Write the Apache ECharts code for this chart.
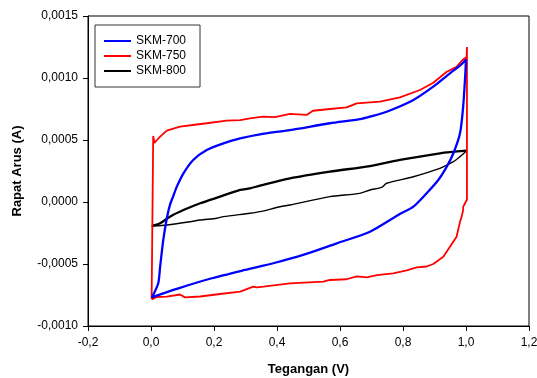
<!DOCTYPE html>
<html>
<head>
<meta charset="utf-8">
<script src="https://cdn.jsdelivr.net/npm/echarts@6/dist/echarts.min.js"></script>
<style>
  html, body { margin: 0; padding: 0; background: #fff; }
  #chart { width: 537px; height: 378px; }
</style>
</head>
<body>
<div id="chart"></div>
<script>
// Cyclic voltammograms: potential (V) vs current (A)
const seriesNames = ['SKM-700', 'SKM-750', 'SKM-800'];
const seriesColors = ['#0000ff', '#ff0000', '#000000'];

const xTickLabels = ['-0,2', '0,0', '0,2', '0,4', '0,6', '0,8', '1,0', '1,2'];
const yTickLabels = ['-0,0010', '-0,0005', '0,0000', '0,0005', '0,0010', '0,0015'];

// SKM-700
const skm700V = [0.002, 0.007, 0.023, 0.029, 0.039, 0.05, 0.06, 0.071, 0.082, 0.103, 0.134, 0.177, 0.23, 0.283, 0.346, 0.441, 0.568, 0.663, 0.695, 0.748, 0.833, 0.896, 0.949, 0.981, 1.0,
  0.998, 0.991, 0.981, 0.96, 0.939, 0.912, 0.875, 0.833, 0.79, 0.695, 0.59, 0.483, 0.394, 0.298, 0.193, 0.087, 0.002];
const skm700I = [-0.000769, -0.00075, -0.000656, -0.000522, -0.000306, -0.000135, -0.000025, 0.00005, 0.000124, 0.000231, 0.000339, 0.000419, 0.000473, 0.000513, 0.000546, 0.00058, 0.000635, 0.000668, 0.000688, 0.000728, 0.000823, 0.00093, 0.001038, 0.0011, 0.00115,
  0.00104, 0.000769, 0.000554, 0.000393, 0.000285, 0.000177, 0.00007, -0.000038, -0.000097, -0.00024, -0.000333, -0.000427, -0.00049, -0.000548, -0.000615, -0.000696, -0.000769];

// SKM-750
const skm750V = [0.002, 0.007, 0.007, 0.011, 0.019, 0.029, 0.05, 0.092, 0.133, 0.177, 0.24, 0.283, 0.314, 0.356, 0.394, 0.441, 0.494, 0.514, 0.568, 0.621, 0.653, 0.727, 0.79, 0.854, 0.896, 0.939, 0.97, 0.991, 1.002, 1.003,
  1.003, 0.997, 0.991, 0.991, 0.986, 0.981, 0.97, 0.949, 0.928, 0.896, 0.875, 0.843, 0.812, 0.769, 0.717, 0.685, 0.653, 0.621, 0.568, 0.547, 0.441, 0.357, 0.336, 0.325, 0.283, 0.219, 0.156, 0.108, 0.092, 0.05, 0.018, 0.002];
const skm750I = [-0.000785, -0.000774, 0.000532, 0.000476, 0.0005, 0.000527, 0.000575, 0.000607, 0.000621, 0.000635, 0.000656, 0.000661, 0.000675, 0.000688, 0.000685, 0.00071, 0.000702, 0.000736, 0.00075, 0.000763, 0.000796, 0.000809, 0.000844, 0.000903, 0.000962, 0.00105, 0.00109, 0.00115, 0.00117, 0.00125,
  0.00002, 0.000016, -0.00004, -0.000065, -0.00012, -0.00016, -0.00028, -0.00036, -0.000441, -0.0005, -0.00052, -0.000527, -0.000552, -0.000575, -0.000589, -0.000608, -0.0006, -0.000623, -0.000629, -0.000642, -0.000656, -0.000683, -0.000688, -0.000683, -0.000723, -0.000742, -0.000762, -0.000769, -0.000746, -0.000763, -0.000766, -0.000785];

// SKM-800 (anodic sweep first, then the return sweep)
const skm800V = [0.002, 0.029, 0.06, 0.103, 0.156, 0.219, 0.283, 0.314, 0.346, 0.441, 0.568, 0.695, 0.79, 0.917, 1.002,
  0.981, 0.96, 0.917, 0.833, 0.748, 0.732, 0.695, 0.663, 0.568, 0.441, 0.41, 0.346, 0.314, 0.23, 0.209, 0.156, 0.124, 0.05, 0.007];
const skm800I = [-0.000194, -0.000172, -0.000118, -0.000065, -0.00001, 0.000043, 0.000097, 0.00011, 0.000132, 0.000191, 0.000245, 0.00029, 0.000339, 0.000393, 0.000414,
  0.000366, 0.000325, 0.000271, 0.000204, 0.000151, 0.000118, 0.000097, 0.00007, 0.000043, -0.000024, -0.000038, -0.000078, -0.000091, -0.000118, -0.000131, -0.000145, -0.000159, -0.000185, -0.000194];
const skm800Turn = 14; // index of the switching potential

const toPairs = (v, i) => v.map((x, k) => [x, i[k]]);
const blue = toPairs(skm700V, skm700I);
const red = toPairs(skm750V, skm750I);
const black = toPairs(skm800V, skm800I);

const chart = echarts.init(document.getElementById('chart'), null, { renderer: 'canvas' });

const font = 'Liberation Sans, Arial, sans-serif';

const lineSeries = (name, data, color, width, smooth, z) => ({
  name, type: 'line', data, showSymbol: false, smooth, color,
  lineStyle: { color, width }, z
});

chart.setOption({
  animation: false,
  backgroundColor: '#fff',
  grid: {
    left: 88, top: 16, right: 8, bottom: 52,
    outerBoundsMode: 'none', containLabel: false,
    show: true, borderColor: '#000', borderWidth: 1, backgroundColor: 'transparent'
  },
  legend: {
    left: 95, top: 25,
    orient: 'vertical',
    itemWidth: 27, itemHeight: 2, itemGap: 1,
    padding: [9, 14, 9, 9],
    borderColor: '#333', borderWidth: 1,
    icon: 'rect',
    textStyle: { fontFamily: font, fontSize: 12, lineHeight: 14, color: '#000' },
    data: seriesNames
  },
  xAxis: {
    type: 'value', min: -0.2, max: 1.2, interval: 0.2,
    axisLine: { onZero: false, lineStyle: { color: '#000', width: 1 } },
    axisTick: { show: true, inside: false, length: 5, lineStyle: { color: '#000' } },
    splitLine: { show: false },
    axisLabel: {
      margin: 11, color: '#000', fontFamily: font, fontSize: 12,
      formatter: v => xTickLabels[Math.round((v + 0.2) / 0.2)]
    },
    name: 'Tegangan (V)', nameLocation: 'middle', nameGap: 37,
    nameTextStyle: { fontFamily: font, fontSize: 13, fontWeight: 'bold', color: '#000' }
  },
  yAxis: {
    type: 'value', min: -0.001, max: 0.0015, interval: 0.0005,
    axisLine: { onZero: false, lineStyle: { color: '#000', width: 1 } },
    axisTick: { show: true, inside: false, length: 5, lineStyle: { color: '#000' } },
    splitLine: { show: false },
    axisLabel: {
      margin: 10, color: '#000', fontFamily: font, fontSize: 12,
      formatter: v => yTickLabels[Math.round((v + 0.001) / 0.0005)]
    },
    name: 'Rapat Arus (A)', nameLocation: 'middle', nameGap: 64,
    nameTextStyle: { fontFamily: font, fontSize: 13, fontWeight: 'bold', color: '#000' }
  },
  series: [
    lineSeries(seriesNames[0], blue, seriesColors[0], 2.3, 0.25, 4),
    lineSeries(seriesNames[1], red, seriesColors[1], 1.8, false, 3),
    lineSeries(seriesNames[2], black.slice(0, skm800Turn + 1), seriesColors[2], 2.3, 0.25, 2),
    lineSeries(seriesNames[2], black.slice(skm800Turn), seriesColors[2], 1.4, 0.25, 2)
  ]
});
</script>
</body>
</html>
